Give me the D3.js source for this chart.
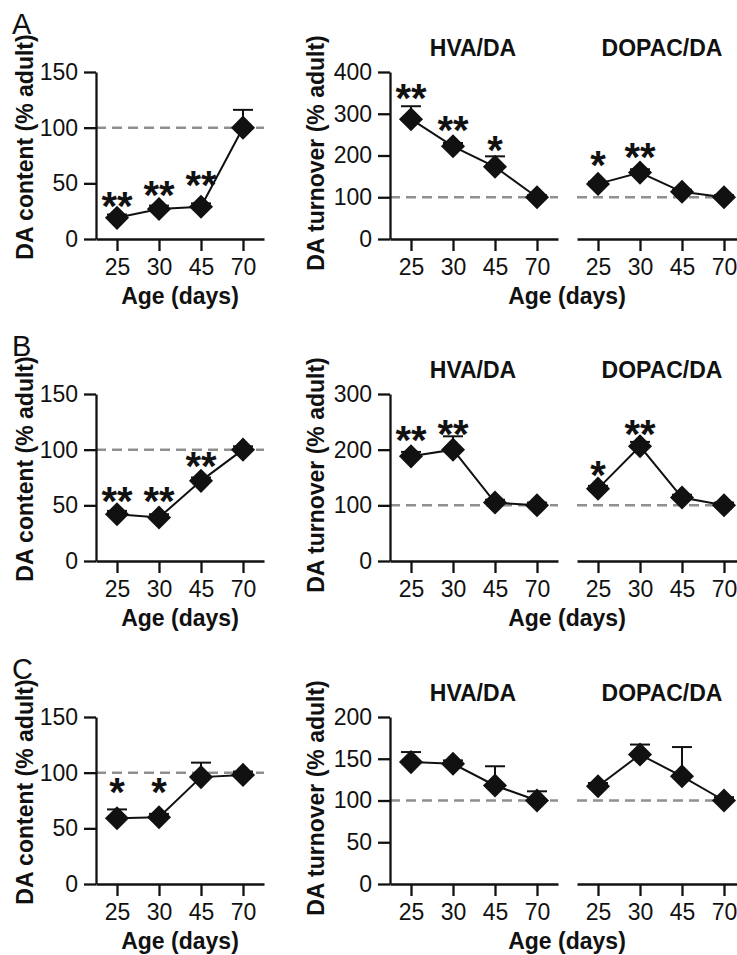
<!DOCTYPE html>
<html>
<head>
<meta charset="utf-8">
<script src="https://cdn.jsdelivr.net/npm/d3@7"></script>
<style>
  body { margin: 0; background: #fff; }
  text { font-family: "Liberation Sans", Arial, sans-serif; }
</style>
</head>
<body>
<svg id="fig" width="737" height="955"></svg>
<script>
const svg = d3.select("#fig");

const ages = ["25", "30", "45", "70"];

// DA content (% adult), upper error = mean + sem
const contentA = [19, 27, 29, 100];
const contentErrA = [3, 3, 3, 16];
const contentB = [42, 39, 72, 100];
const contentErrB = [3, 3, 3, 3];
const contentC = [59, 60, 96, 98];
const contentErrC = [8, 3, 13, 3];

// HVA/DA turnover
const hvaA = [287, 222, 173, 100];
const hvaErrA = [31, 8, 25, 5];
const hvaB = [188, 200, 105, 100];
const hvaErrB = [8, 24, 5, 5];
const hvaC = [146, 144, 118, 100];
const hvaErrC = [12, 4, 23, 11];

// DOPAC/DA turnover
const dopacA = [132, 159, 113, 100];
const dopacErrA = [5, 8, 5, 5];
const dopacB = [130, 206, 114, 100];
const dopacErrB = [5, 8, 5, 5];
const dopacC = [117, 155, 129, 100];
const dopacErrC = [4, 12, 35, 4];

// significance marks and the level (data units) their centre sits at
const contentStarsA = ["**", "**", "**", ""];
const contentStarLvlA = [38, 48, 57, 0];
const hvaStarsA = ["**", "**", "*", ""];
const hvaStarLvlA = [359, 282, 234, 0];
const dopacStarsA = ["*", "**", "", ""];
const dopacStarLvlA = [198, 219, 0, 0];

const contentStarsB = ["**", "**", "**", ""];
const contentStarLvlB = [62, 62, 93, 0];
const hvaStarsB = ["**", "**", "", ""];
const hvaStarLvlB = [233, 244, 0, 0];
const dopacStarsB = ["*", "**", "", ""];
const dopacStarLvlB = [170, 244, 0, 0];

const contentStarsC = ["*", "*", "", ""];
const contentStarLvlC = [91, 91, 0, 0];
const noStars = ["", "", "", ""];
const noLvl = [0, 0, 0, 0];

const contentTicks = [0, 50, 100, 150];
const turnoverTicksA = [0, 100, 200, 300, 400];
const turnoverTicksB = [0, 100, 200, 300];
const turnoverTicksC = [0, 50, 100, 150, 200];

const rows = [
    {letter: "A", dy: 0,
     content: [contentA, contentErrA, contentStarsA, contentStarLvlA],
     hva: [hvaA, hvaErrA, hvaStarsA, hvaStarLvlA],
     dopac: [dopacA, dopacErrA, dopacStarsA, dopacStarLvlA],
     tTicks: turnoverTicksA},
    {letter: "B", dy: 322,
     content: [contentB, contentErrB, contentStarsB, contentStarLvlB],
     hva: [hvaB, hvaErrB, hvaStarsB, hvaStarLvlB],
     dopac: [dopacB, dopacErrB, dopacStarsB, dopacStarLvlB],
     tTicks: turnoverTicksB},
    {letter: "C", dy: 645,
     content: [contentC, contentErrC, contentStarsC, contentStarLvlC],
     hva: [hvaC, hvaErrC, noStars, noLvl],
     dopac: [dopacC, dopacErrC, noStars, noLvl],
     tTicks: turnoverTicksC},
];

const Y0 = 239, Y1 = 72;
const FS = 23;

function main() {
    rows.forEach(drawRow);
}

function xScale(r0, r1) {
    return d3.scalePoint().domain(ages).range([r0, r1]).padding(0.5);
}

function styleAxis(g) {
    g.selectAll("path, line").attr("stroke", "#111").attr("stroke-width", 2.3);
    g.selectAll("text").attr("font-size", FS).attr("fill", "#111")
        .attr("font-family", "'Liberation Sans', Arial, sans-serif");
}

function drawPanel(parent, x, y, series, yTicks) {
    const g = parent.append("g");
    const [vals, errs, stars, lvls] = series;
    const pts = ages.map((a, i) => ({age: a, v: vals[i], e: errs[i], s: stars[i], l: lvls[i]}));

    // reference at 100 %
    g.append("line")
        .attr("x1", x.range()[0]).attr("x2", x.range()[1])
        .attr("y1", y(100)).attr("y2", y(100))
        .attr("stroke", "#8f8f8f").attr("stroke-width", 2.5)
        .attr("stroke-dasharray", "10,6");

    const xa = g.append("g").attr("transform", `translate(0,${y.range()[0]})`)
        .call(d3.axisBottom(x).tickSize(12).tickSizeOuter(0).tickPadding(8));
    styleAxis(xa);

    if (yTicks) {
        const ya = g.append("g").attr("transform", `translate(${x.range()[0]},0)`)
            .call(d3.axisLeft(y).tickValues(yTicks).tickSize(12).tickSizeOuter(0).tickPadding(6));
        styleAxis(ya);
    }

    // error whiskers (upper only)
    const eb = g.selectAll(".err").data(pts).join("g").attr("class", "err");
    eb.append("line")
        .attr("x1", d => x(d.age)).attr("x2", d => x(d.age))
        .attr("y1", d => y(d.v)).attr("y2", d => y(d.v + d.e))
        .attr("stroke", "#111").attr("stroke-width", 2);
    eb.append("line")
        .attr("x1", d => x(d.age) - 10).attr("x2", d => x(d.age) + 10)
        .attr("y1", d => y(d.v + d.e)).attr("y2", d => y(d.v + d.e))
        .attr("stroke", "#111").attr("stroke-width", 2);

    g.append("path").datum(pts)
        .attr("fill", "none").attr("stroke", "#111").attr("stroke-width", 2)
        .attr("d", d3.line().x(d => x(d.age)).y(d => y(d.v)));

    g.selectAll(".pt").data(pts).join("path")
        .attr("class", "pt")
        .attr("d", d3.symbol(d3.symbolSquare, 290))
        .attr("transform", d => `translate(${x(d.age)},${y(d.v)}) rotate(45)`)
        .attr("fill", "#111");

    g.selectAll(".star").data(pts.filter(d => d.s)).join("text")
        .attr("class", "star")
        .attr("x", d => x(d.age))
        .attr("y", d => y(d.l) + 23)
        .attr("text-anchor", "middle")
        .attr("font-size", 40).attr("font-weight", "bold").attr("fill", "#111")
        .text(d => d.s);
}

function boldText(g, x, y, s) {
    return g.append("text").attr("x", x).attr("y", y)
        .attr("text-anchor", "middle").attr("font-size", FS).attr("font-weight", "bold")
        .attr("fill", "#111").text(s);
}

function drawRow(row) {
    const g = svg.append("g").attr("transform", `translate(0,${row.dy})`);

    g.append("text").attr("x", 12).attr("y", 34)
        .attr("font-size", 29).attr("fill", "#111").text(row.letter);

    // left: DA content
    const xl = xScale(96, 264);
    const yl = d3.scaleLinear().domain([0, 150]).range([Y0, Y1]);
    drawPanel(g, xl, yl, row.content, contentTicks);

    boldText(g, 0, 0, "DA content (% adult)")
        .attr("transform", "translate(33,147) rotate(-90)");
    boldText(g, 180, 304, "Age (days)");

    // right: turnover
    const tMax = row.tTicks[row.tTicks.length - 1];
    const yr = d3.scaleLinear().domain([0, tMax]).range([Y0, Y1]);
    const xh = xScale(390, 558);
    const xd = xScale(577, 745);
    drawPanel(g, xh, yr, row.hva, row.tTicks);
    drawPanel(g, xd, yr, row.dopac, null);

    boldText(g, 473, 56, "HVA/DA");
    boldText(g, 662, 56, "DOPAC/DA");

    boldText(g, 0, 0, "DA turnover (% adult)")
        .attr("transform", "translate(324,153) rotate(-90)");
    boldText(g, 567, 304, "Age (days)");
}

main();
</script>
</body>
</html>
